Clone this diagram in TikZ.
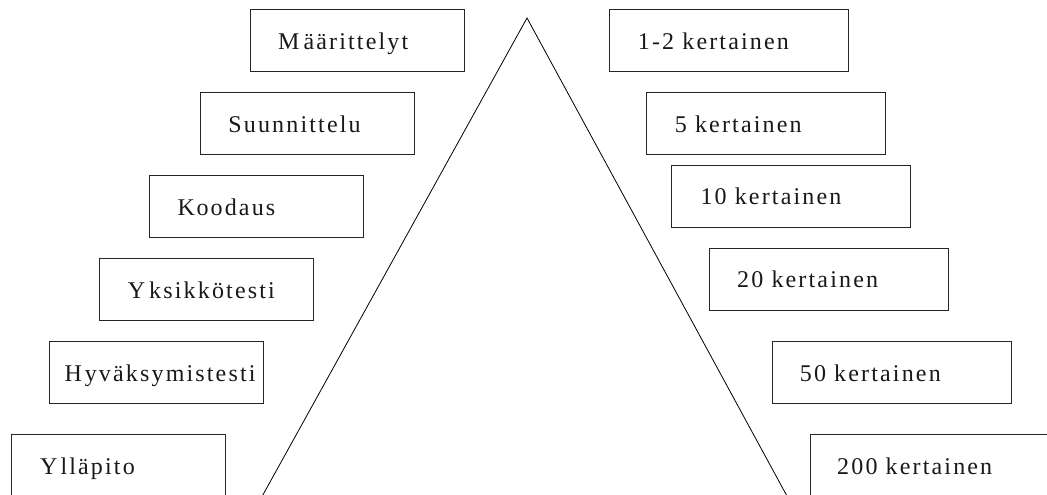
\documentclass[tikz,border=0pt]{standalone}
\usepackage{fontspec}
\setmainfont{Liberation Serif}[LetterSpace=9]
\begin{document}
\begin{tikzpicture}[x=1pt,y=-1pt,
  box/.style={draw=black!85,line width=0.8pt,rectangle,anchor=north west,inner sep=0pt,minimum height=62pt},
  lbox/.style={box,minimum width=214pt},
  rbox/.style={box,minimum width=239pt},
  lbl/.style={anchor=base west,inner sep=0pt,font=\fontsize{24}{28}\selectfont,text=black!90}]
\useasboundingbox (0,0) rectangle (1047,495);
\clip (0,0) rectangle (1047,495);
\fill[white] (0,0) rectangle (1047,495);
% triangle
\coordinate (apex) at (527,18);
\coordinate (bl) at (249,520);
\coordinate (br) at (800,520);
\draw[line width=0.8pt] (bl) -- (apex) -- (br);
% left boxes
\node[lbox] (L1) at (250,9.3) {};
\node[lbox] (L2) at (199.7,92.3) {};
\node[lbox] (L3) at (149,175) {};
\node[lbox] (L4) at (98.7,257.7) {};
\node[lbox] (L5) at (48.7,341.3) {};
\node[lbox] (L6) at (11,434.3) {};
\node[lbl] (tL1) at ([shift={(28,40)}]L1.north west) {M\kern4pt äärittelyt};
\node[lbl] (tL2) at ([shift={(28.5,40)}]L2.north west) {Suunnittelu};
\node[lbl] (tL3) at ([shift={(28.5,40)}]L3.north west) {K\kern1.5pt oodaus};
\node[lbl] (tL4) at ([shift={(29,40.5)}]L4.north west) {Y\kern4pt ksikkötesti};
\node[lbl] (tL5) at ([shift={(15.6,39.7)}]L5.north west) {H\kern3pt yväksymistesti};
\node[lbl] (tL6) at ([shift={(29,40)}]L6.north west) {Y\kern3pt lläpito};
% right boxes
\node[rbox] (R1) at (608.7,9.3) {};
\node[rbox] (R2) at (646.3,92.3) {};
\node[rbox] (R3) at (671.3,165) {};
\node[rbox] (R4) at (709,247.7) {};
\node[rbox] (R5) at (771.7,341.3) {};
\node[rbox] (R6) at (809.7,434) {};
\node[lbl] (tR1) at ([shift={(29,40)}]R1.north west) {1-2 kertainen};
\node[lbl] (tR2) at ([shift={(28.4,40)}]R2.north west) {5 kertainen};
\node[lbl] (tR3) at ([shift={(29,39)}]R3.north west) {10 kertainen};
\node[lbl] (tR4) at ([shift={(28,40)}]R4.north west) {20 kertainen};
\node[lbl] (tR5) at ([shift={(28,39.7)}]R5.north west) {50 kertainen};
\node[lbl] (tR6) at ([shift={(27.3,40)}]R6.north west) {200 kertainen};
\end{tikzpicture}
\end{document}
